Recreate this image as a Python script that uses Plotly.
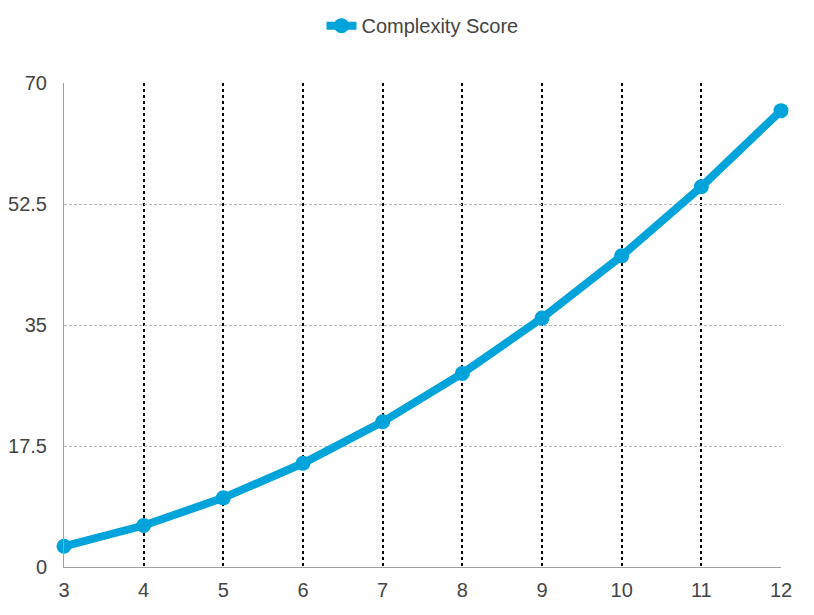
import plotly.graph_objects as go

x_vals = [3, 4, 5, 6, 7, 8, 9, 10, 11, 12]
complexity = [3, 6, 10, 15, 21, 28, 36, 45, 55, 66]
y_ticks = [0, 17.5, 35, 52.5, 70]
y_tick_text = ["0", "17.5", "35", "52.5", "70"]

fig = go.Figure()
fig.add_trace(go.Scatter(
    x=x_vals, y=complexity, mode="lines+markers", name="Complexity Score",
    line=dict(color="#00A3DA", width=8),
    marker=dict(color="#00A3DA", size=15),
    cliponaxis=False,
))

fig.update_layout(
    width=814, height=615,
    margin=dict(l=64, r=33, t=83, b=48, autoexpand=False),
    paper_bgcolor="white", plot_bgcolor="white",
    font=dict(family="Liberation Sans, Arial, sans-serif", size=20, color="#444444"),
    showlegend=True,
    legend=dict(orientation="h", x=0.5, xanchor="center", y=0.99, yanchor="top",
                yref="container", font=dict(size=20, color="#444444")),
    xaxis=dict(
        range=[3, 12], tickvals=x_vals, showgrid=True, gridcolor="black",
        griddash="dot", gridwidth=2, showline=True, linecolor="#A0A0A0", linewidth=1,
        zeroline=False, ticks="", ticklen=0, ticklabelstandoff=5, automargin=False,
    ),
    yaxis=dict(
        range=[0, 70], tickvals=y_ticks, ticktext=y_tick_text, showgrid=True,
        gridcolor="#B5B5B5", griddash="3px,2px", gridwidth=1, showline=True,
        linecolor="#A0A0A0", linewidth=1, zeroline=False, ticks="", ticklen=0,
        ticklabelstandoff=12, automargin=False,
    ),
)

fig.write_html("out.html", config={"displayModeBar": False},
               post_script="document.body.style.margin='0';")
